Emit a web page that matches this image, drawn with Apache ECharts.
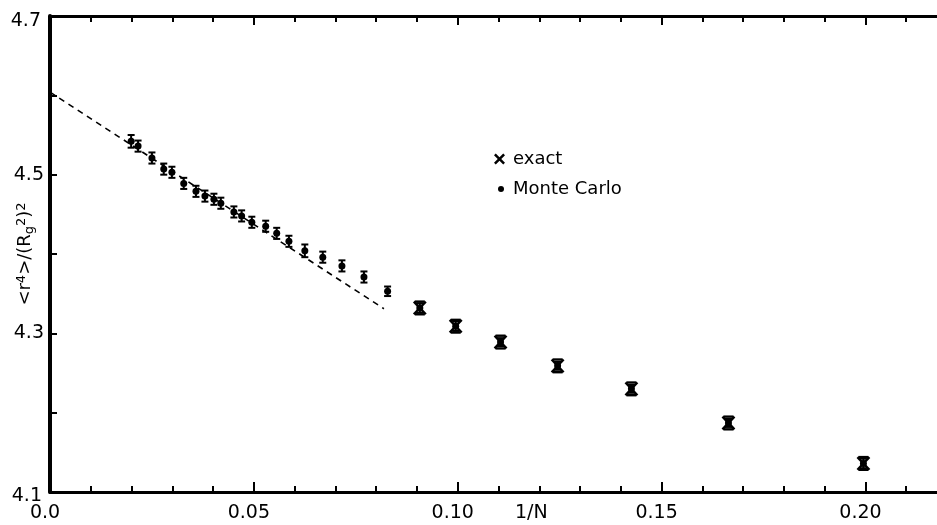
<!DOCTYPE html>
<html>
<head>
<meta charset="utf-8">
<script src="https://cdn.jsdelivr.net/npm/echarts@6/dist/echarts.min.js"></script>
<style>
  html, body { margin: 0; padding: 0; background: #fff; }
  #main { width: 937px; height: 525px; }
</style>
</head>
<body>
<div id="main"></div>
<script>
// Monte Carlo points (1/N, <r^4>/(Rg^2)^2) and error half-widths
var mcX = [0.0199, 0.0216, 0.0250, 0.0279, 0.0299, 0.0328, 0.0358, 0.0380, 0.0402, 0.0419,
           0.0451, 0.0470, 0.0495, 0.0529, 0.0556, 0.0586, 0.0625, 0.0669, 0.0716, 0.0770,
           0.0828, 0.0907, 0.0995, 0.1105, 0.1245, 0.1426, 0.1664, 0.1995];
var mcY = [4.542, 4.536, 4.521, 4.507, 4.503, 4.489, 4.479, 4.473, 4.469, 4.464,
           4.453, 4.448, 4.440, 4.435, 4.426, 4.416, 4.404, 4.396, 4.385, 4.371,
           4.353, 4.332, 4.309, 4.289, 4.259, 4.230, 4.187, 4.136];
var mcErr = [0.008, 0.007, 0.007, 0.007, 0.007, 0.007, 0.007, 0.007, 0.007, 0.007,
             0.007, 0.007, 0.007, 0.007, 0.007, 0.007, 0.008, 0.007, 0.007, 0.007,
             0.006, 0.006, 0.006, 0.005, 0.005, 0.005, 0.005, 0.006];

// exact enumeration points
var exactX = [0.0907, 0.0995, 0.1105, 0.1245, 0.1426, 0.1664, 0.1995];
var exactY = [4.332, 4.309, 4.289, 4.259, 4.230, 4.187, 4.136];
var exactErr = [0.008, 0.008, 0.008, 0.008, 0.008, 0.008, 0.008];

// dashed extrapolation line
var fitX = [0, 0.0819];
var fitY = [4.604, 4.331];

var xTickLabels = { '0': '0.0', '0.05': '0.05', '0.1': '0.10', '0.15': '0.15', '0.2': '0.20' };
var yTickLabels = { '4.5': '4.5', '4.3': '4.3' };
// end labels of the y axis (echarts 6 pins them to the canvas edge, so placed by hand)
var yEndLabels = ['4.7', '4.1'];

var FONT = 'DejaVu Sans';

var mcData = mcX.map(function (x, i) { return [x, mcY[i], mcErr[i]]; });
var exactData = exactX.map(function (x, i) { return [x, exactY[i], exactErr[i]]; });
var fitData = fitX.map(function (x, i) { return [x, fitY[i]]; });

var chart = echarts.init(document.getElementById('main'));

function xAxisBase(pos, tickLen, interval, withLine, withLabel) {
  return {
    type: 'value', position: pos, min: 0, max: 0.22, interval: interval,
    axisLine: { show: withLine, lineStyle: { color: '#000', width: 3 } },
    axisTick: { show: true, inside: true, length: tickLen, lineStyle: { color: '#000', width: 2 } },
    splitLine: { show: false },
    axisLabel: {
      show: withLabel, margin: withLabel ? 12 : 60, color: '#000', fontFamily: FONT, fontSize: 19,
      padding: [0, 10, 0, 0],
      formatter: function (v) {
        var k = String(Math.round(v * 100) / 100);
        return xTickLabels[k] || '';
      }
    }
  };
}

var option = {
  backgroundColor: '#fff',
  animation: false,
  grid: { left: 50, right: -10, top: 16, bottom: 33, containLabel: false, outerBoundsMode: 'none' },
  xAxis: [
    xAxisBase('bottom', 6, 0.01, true, true),
    xAxisBase('bottom', 10, 0.05, false, false),
    xAxisBase('top', 6, 0.01, true, false),
    xAxisBase('top', 9, 0.05, false, false)
  ],
  yAxis: {
    type: 'value', min: 4.1, max: 4.7, interval: 0.1,
    axisLine: { show: true, lineStyle: { color: '#000', width: 4 } },
    axisTick: { show: true, inside: true, length: 7, lineStyle: { color: '#000', width: 2 } },
    splitLine: { show: false },
    axisLabel: {
      margin: 6, color: '#000', fontFamily: FONT, fontSize: 19,
      align: 'right', verticalAlign: 'middle',
      formatter: function (v) { return yTickLabels[v.toFixed(1)] || ''; }
    },
    name: '{a|<r}{s|4}{a|>/(R}{g|g}{s|2}{a|)}{s|2}',
    nameLocation: 'middle', nameGap: 14, nameRotate: 90, nameMoveOverlap: false,
    nameTextStyle: {
      rich: {
        a: { fontFamily: FONT, fontSize: 18, color: '#000' },
        s: { fontFamily: FONT, fontSize: 13, color: '#000', verticalAlign: 'top', padding: [0, 0, 8, 0] },
        g: { fontFamily: FONT, fontSize: 13, color: '#000', verticalAlign: 'bottom', padding: [6, 0, 0, 0] }
      }
    }
  },
  legend: [
    {
      data: [{ name: 'exact', icon: 'path://M0,1.6L1.6,0L5,3.4L8.4,0L10,1.6L6.6,5L10,8.4L8.4,10L5,6.6L1.6,10L0,8.4L3.4,5Z' }],
      orient: 'vertical', left: 489, top: 145, itemWidth: 11, itemHeight: 11,
      textStyle: { fontFamily: FONT, fontSize: 18, color: '#000', padding: [0, 0, 0, 3] },
      itemStyle: { color: '#000' }
    },
    {
      data: [{ name: 'Monte Carlo', icon: 'circle' }],
      orient: 'vertical', left: 493, top: 175, itemWidth: 6, itemHeight: 6,
      textStyle: { fontFamily: FONT, fontSize: 18, color: '#000', padding: [0, 0, 0, 4] },
      itemStyle: { color: '#000' }
    }
  ],
  graphic: [
    { type: 'text', left: 515, top: 504, style: { text: '1/N', fontFamily: FONT, fontSize: 19, fill: '#000' } },
    { type: 'text', x: 41, y: 21, style: { text: yEndLabels[0], fontFamily: FONT, fontSize: 19, fill: '#000', align: 'right', verticalAlign: 'middle' } },
    { type: 'text', x: 42, y: 496, style: { text: yEndLabels[1], fontFamily: FONT, fontSize: 19, fill: '#000', align: 'right', verticalAlign: 'middle' } }
  ],
  series: [
    {
      name: 'fit', type: 'line', data: fitData, symbol: 'none',
      lineStyle: { color: '#000', width: 1.6, type: [6, 5] }, z: 1
    },
    {
      name: 'Monte Carlo', type: 'custom', data: mcData, itemStyle: { color: '#000' },
      encode: { x: 0, y: 1 },
      renderItem: function (params, api) {
        var c = api.coord([api.value(0), api.value(1)]);
        var hi = api.coord([api.value(0), api.value(1) + api.value(2)]);
        var lo = api.coord([api.value(0), api.value(1) - api.value(2)]);
        var st = { stroke: '#000', lineWidth: 2 };
        return {
          type: 'group', children: [
            { type: 'line', shape: { x1: c[0], y1: hi[1], x2: c[0], y2: lo[1] }, style: st },
            { type: 'line', shape: { x1: c[0] - 3.5, y1: hi[1], x2: c[0] + 3.5, y2: hi[1] }, style: st },
            { type: 'line', shape: { x1: c[0] - 3.5, y1: lo[1], x2: c[0] + 3.5, y2: lo[1] }, style: st },
            { type: 'circle', shape: { cx: c[0], cy: c[1], r: 3.5 }, style: { fill: '#000' } }
          ]
        };
      }
    },
    {
      name: 'exact', type: 'custom', data: exactData, itemStyle: { color: '#000' },
      encode: { x: 0, y: 1 },
      renderItem: function (params, api) {
        var c = api.coord([api.value(0), api.value(1)]);
        var hi = api.coord([api.value(0), api.value(1) + api.value(2)]);
        var lo = api.coord([api.value(0), api.value(1) - api.value(2)]);
        var st = { stroke: '#000', lineWidth: 2.4 };
        return {
          type: 'group', children: [
            { type: 'line', shape: { x1: c[0] - 6, y1: hi[1], x2: c[0] + 6, y2: lo[1] }, style: st },
            { type: 'line', shape: { x1: c[0] + 6, y1: hi[1], x2: c[0] - 6, y2: lo[1] }, style: st },
            { type: 'line', shape: { x1: c[0] - 5, y1: hi[1], x2: c[0] + 5, y2: hi[1] }, style: st },
            { type: 'line', shape: { x1: c[0] - 5, y1: lo[1], x2: c[0] + 5, y2: lo[1] }, style: st }
          ]
        };
      }
    }
  ]
};

chart.setOption(option);
</script>
</body>
</html>
